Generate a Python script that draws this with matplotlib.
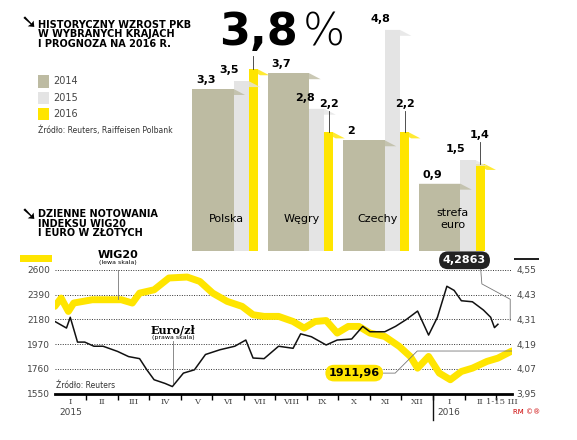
import matplotlib
matplotlib.use("Agg")
import matplotlib.pyplot as plt
import numpy as np
from matplotlib.patches import Polygon

KHAKI = "#BDBBA2"
LGRAY = "#E4E4E4"
YEL = "#FFE500"

countries = ["Polska", "Węgry", "Czechy", "strefa\neuro"]
years = ["2014", "2015", "2016"]
gdp_2014 = [3.3, 3.7, 2.0, 0.9]
gdp_2015 = [3.5, 2.8, 4.8, 1.5]
gdp_2016 = [3.8, 2.2, 2.2, 1.4]

# daily quotes, sampled by eye (x in months since Jan 2015)
wig_t = [0.0, 0.2, 0.43, 0.6, 1.19, 1.76, 2.11, 2.46, 2.69, 3.15, 3.62, 4.2, 4.6, 5.01, 5.47, 5.94,
         6.29, 6.64, 7.1, 7.56, 7.91, 8.26, 8.61, 8.96, 9.31, 9.65, 10.0, 10.47, 10.93, 11.28, 11.51,
         11.86, 12.2, 12.55, 12.9, 13.25, 13.71, 14.06, 14.5]
wig_v = [2290, 2360, 2247, 2318, 2346, 2346, 2346, 2318, 2402, 2430, 2530, 2538, 2501, 2402, 2332,
         2290, 2219, 2205, 2205, 2162, 2106, 2162, 2170, 2064, 2120, 2120, 2064, 2035, 1951, 1866,
         1767, 1866, 1725, 1669, 1739, 1767, 1824, 1852, 1912]
eur_t = [0.0, 0.37, 0.49, 0.72, 0.95, 1.24, 1.53, 1.99, 2.34, 2.69, 2.92, 3.15, 3.5, 3.73, 4.08,
         4.43, 4.78, 5.24, 5.71, 6.06, 6.29, 6.64, 7.1, 7.56, 7.8, 8.14, 8.61, 8.96, 9.42, 9.77, 10.0,
         10.47, 10.81, 11.16, 11.51, 11.86, 12.14, 12.44, 12.67, 12.9, 13.25, 13.6, 13.83, 13.95, 14.06]
eur_v = [4.30, 4.268, 4.32, 4.20, 4.20, 4.18, 4.18, 4.155, 4.13, 4.12, 4.066, 4.018, 4.0, 3.985,
         4.05, 4.066, 4.14, 4.163, 4.18, 4.21, 4.123, 4.12, 4.18, 4.17, 4.24, 4.226, 4.186, 4.21,
         4.215, 4.276, 4.25, 4.25, 4.276, 4.31, 4.35, 4.234, 4.32, 4.47, 4.45, 4.40, 4.395, 4.355,
         4.32, 4.27, 4.2863]
months = ["I", "II", "III", "IV", "V", "VI", "VII", "VIII", "IX", "X", "XI", "XII", "I", "II", "1-15 III"]

fig = plt.figure(figsize=(5.77, 4.40), dpi=100, facecolor="white")

# ---- GDP bars (pseudo 3D) ----
axb = fig.add_axes([0.32, 0.43, 0.55, 0.52])
axb.set_xlim(-0.1, 4.1)
axb.set_ylim(-0.8, 5.0)
axb.axis("off")
series = [gdp_2014, gdp_2015, gdp_2016]
cols = [KHAKI, LGRAY, YEL]
widths = [0.55, 0.2, 0.12]
offs = [0.0, 0.55, 0.75]
dx, dy = 0.15, 0.15
for gi in range(len(countries)):
    x0 = gi * 1.0
    for si in (2, 1, 0):
        v = series[si][gi]
        xl = x0 + offs[si]
        w = widths[si]
        axb.add_patch(plt.Rectangle((xl, -0.8), w, v + 0.8, fc=cols[si], ec="none", zorder=3 - si))
        top = Polygon([(xl, v), (xl + w, v), (xl + w + dx, v - dy), (xl + dx, v - dy)],
                      closed=True, fc=cols[si], ec="none", zorder=3 - si, alpha=0.8)
        axb.add_patch(top)
    # labels
    v14, v15, v16 = gdp_2014[gi], gdp_2015[gi], gdp_2016[gi]
    axb.text(x0 + 0.05, v14 + 0.1, f"{v14:g}".replace(".", ","), ha="left", va="bottom",
             fontsize=8, fontweight="bold", zorder=5)
    axb.text(x0 + 0.62, v15 + 0.15, f"{v15:g}".replace(".", ","), ha="right", va="bottom",
             fontsize=8, fontweight="bold", zorder=5)
    if gi > 0:
        axb.plot([x0 + 0.81, x0 + 0.81], [v16, v16 + 0.55], color="#333333", lw=0.6, zorder=5)
        axb.text(x0 + 0.81, v16 + 0.6, f"{v16:g}".replace(".", ","), ha="center", va="bottom",
                 fontsize=8, fontweight="bold", zorder=5)
    axb.text(x0 + 0.45, 0.0, countries[gi], ha="center", va="center", fontsize=8, zorder=6,
             family="Liberation Sans Narrow")
axb.plot([0.81, 0.81], [gdp_2016[0], 4.15], color="#333333", lw=0.6)

fig.text(0.38, 0.975, "3,8", fontsize=32, fontweight="bold", ha="left", va="top")
fig.text(0.525, 0.975, "%", fontsize=32, ha="left", va="top", fontweight="light")

fig.text(0.035, 0.97, "➘", fontsize=14, fontweight="bold", va="top")
fig.text(0.065, 0.955, "HISTORYCZNY WZROST PKB\nW WYBRANYCH KRAJACH\nI PROGNOZA NA 2016 R.",
         fontsize=7, fontweight="bold", va="top", linespacing=0.95)
for i, (y, c) in enumerate(zip(years, cols)):
    yy = 0.815 - i * 0.037
    fig.patches.append(plt.Rectangle((0.065, yy - 0.014), 0.02, 0.028, fc=c, transform=fig.transFigure))
    fig.text(0.093, yy, y, fontsize=7, va="center", color="#444444")
fig.text(0.065, 0.705, "Źródło: Reuters, Raiffeisen Polbank", fontsize=5.5, va="center", color="#333333")
fig.text(0.035, 0.535, "➘", fontsize=14, fontweight="bold", va="top")
fig.text(0.065, 0.525, "DZIENNE NOTOWANIA\nINDEKSU WIG20\nI EURO W ZŁOTYCH",
         fontsize=7, fontweight="bold", va="top", linespacing=0.95)

# ---- line chart ----
ax = fig.add_axes([0.095, 0.105, 0.792, 0.282])
ax2 = ax.twinx()
ax.set_xlim(0, 14.5)
ax.set_ylim(1550, 2600)
ax2.set_ylim(3.95, 4.55)
ax.set_yticks([1550, 1760, 1970, 2180, 2390, 2600])
ax2.set_yticks([3.95, 4.07, 4.19, 4.31, 4.43, 4.55])
ax2.set_yticklabels(["3,95", "4,07", "4,19", "4,31", "4,43", "4,55"])
for a in (ax, ax2):
    a.tick_params(length=0, labelsize=6.5, labelcolor="#444444")
    for s in a.spines.values():
        s.set_visible(False)
ax.spines["bottom"].set_visible(True)
ax.spines["bottom"].set_linewidth(2)
for yv in [1760, 1970, 2180, 2390, 2600]:
    ax.axhline(yv, color="#333333", ls=(0, (1, 1.5)), lw=0.7, zorder=0)
ax.plot(wig_t, wig_v, color=YEL, lw=5, solid_capstyle="round", zorder=2)
ax2.plot(eur_t, eur_v, color="#111111", lw=1.1, zorder=3)
ax.set_xticks(np.arange(1, 15))
ax.set_xticklabels([])
ax.tick_params(axis="x", length=4, width=1, direction="out")
for i, m in enumerate(months):
    x = i + 0.5 if i < 14 else 14.2
    ax.text(x, 1480, m, ha="center", va="center", fontsize=6, color="#444444", family="DejaVu Serif")
ax.text(0.5, 1370, "2015", ha="center", fontsize=6.5, color="#444444")
ax.text(12.5, 1370, "2016", ha="center", fontsize=6.5, color="#444444")
ax.plot([12, 12], [1550, 1330], color="#111111", lw=1, clip_on=False)
ax.text(0.05, 1600, "Źródło: Reuters", fontsize=5.5, color="#333333")
ax.text(14.55, 1380, "RM ©®", fontsize=5, color="#cc0000", ha="left")

ax.text(2.0, 2700, "WIG20", fontsize=8, fontweight="bold", ha="center")
ax.text(2.0, 2650, "(lewa skala)", fontsize=4.5, ha="center")
ax.plot([2.0, 2.0], [2630, 2355], color="#777777", lw=0.6)
ax.text(3.75, 2060, "Euro/zł", fontsize=8, fontweight="bold", ha="center", family="DejaVu Serif")
ax.text(3.75, 2015, "(prawa skala)", fontsize=4.5, ha="center")
ax.plot([3.75, 3.75], [1995, 1640], color="#777777", lw=0.6)
ax.text(9.5, 1725, "1911,96", fontsize=8, fontweight="bold", ha="center", va="center",
        bbox=dict(boxstyle="round,pad=0.3,rounding_size=0.8", fc=YEL, ec="none"))
ax.plot([10.3, 10.8, 11.5, 14.5], [1725, 1725, 1912, 1912], color="#777777", lw=0.6)
ax.text(13.0, 2680, "4,2863", fontsize=8, fontweight="bold", color="white", ha="center", va="center",
        bbox=dict(boxstyle="round,pad=0.35,rounding_size=0.8", fc="#222222", ec="none"))
ax.plot([13.5, 13.55, 14.45, 14.45], [2650, 2480, 2350, 2170], color="#777777", lw=0.6, clip_on=False)
fig.patches.append(plt.Rectangle((0.035, 0.405), 0.055, 0.016, fc=YEL, ec="none", transform=fig.transFigure))
fig.patches.append(plt.Rectangle((0.89, 0.408), 0.045, 0.006, fc="#222222", ec="none", transform=fig.transFigure))

fig.savefig("out.png", dpi=100, facecolor="white")
